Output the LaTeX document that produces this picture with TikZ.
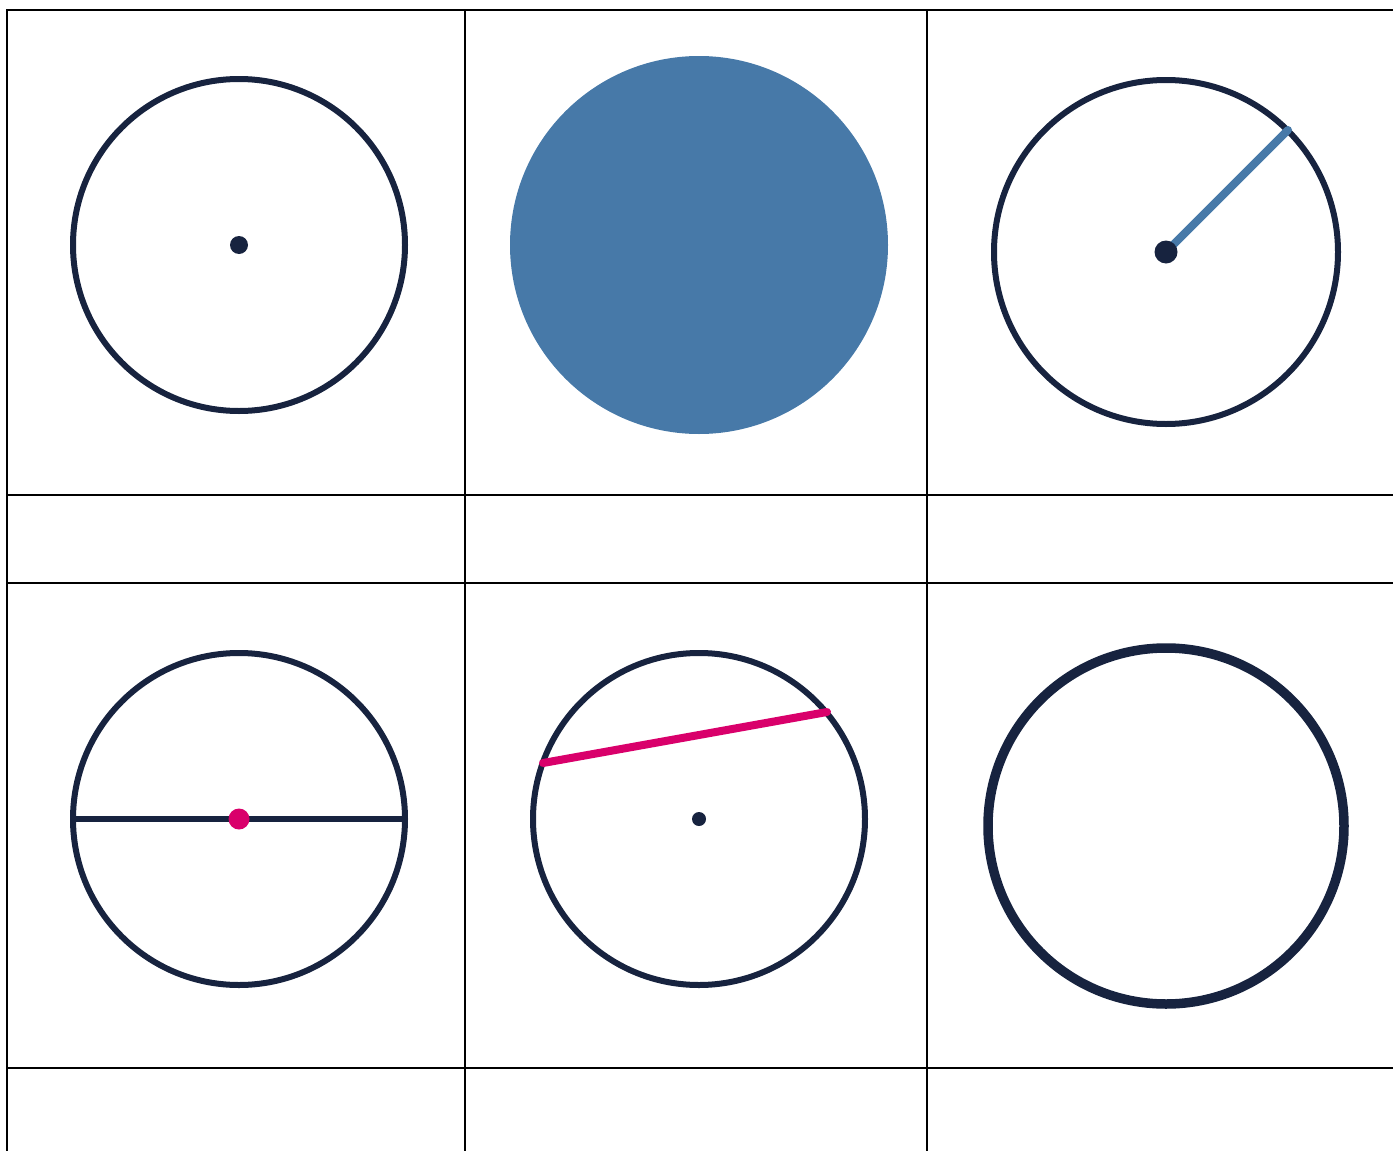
\documentclass[tikz,border=0pt]{standalone}
\begin{document}
\begin{tikzpicture}[x=0.5pt,y=-0.5pt,
  gridline/.style={draw=black,line width=1.2pt},
  ring/.style={draw=navy,line width=3pt},
  dotnavy/.style={fill=navy},
]
\definecolor{navy}{HTML}{17233F}
\definecolor{steel}{HTML}{4779A8}
\definecolor{magenta}{HTML}{D9006B}
\useasboundingbox (0,0) rectangle (1393,1151);
% grid
\draw[gridline] (7,1151) -- (7,10) -- (1393,10);
\draw[gridline] (465,10) -- (465,1151);
\draw[gridline] (927,10) -- (927,1151);
\draw[gridline] (7,495) -- (1393,495);
\draw[gridline] (7,583) -- (1393,583);
\draw[gridline] (7,1068) -- (1393,1068);
% cell 1
\coordinate (c1) at (239,245);
\draw[ring] (c1) circle[radius=166];
\fill[dotnavy] (c1) circle[radius=9];
% cell 2
\coordinate (c2) at (699,245);
\fill[steel] (c2) circle[radius=189];
% cell 3
\coordinate (c3) at (1166,252);
\coordinate (r3) at (1288,130);
\draw[ring] (c3) circle[radius=172];
\draw[steel,line width=4pt,line cap=round] (c3) -- (r3);
\fill[dotnavy] (c3) circle[radius=11.5];
% cell 4
\coordinate (c4) at (239,819);
\coordinate (d4a) at (73,819);
\coordinate (d4b) at (405,819);
\draw[ring] (c4) circle[radius=166];
\draw[navy,line width=3pt] (d4a) -- (d4b);
\fill[magenta] (c4) circle[radius=10.5];
% cell 5
\coordinate (c5) at (699,819);
\coordinate (ch1) at (543,763);
\coordinate (ch2) at (827,712);
\draw[ring] (c5) circle[radius=166];
\draw[magenta,line width=4pt,line cap=round] (ch1) -- (ch2);
\fill[dotnavy] (c5) circle[radius=7];
% cell 6
\coordinate (c6) at (1166,826);
\draw[navy,line width=4.75pt] (c6) circle[radius=178];
\end{tikzpicture}
\end{document}
